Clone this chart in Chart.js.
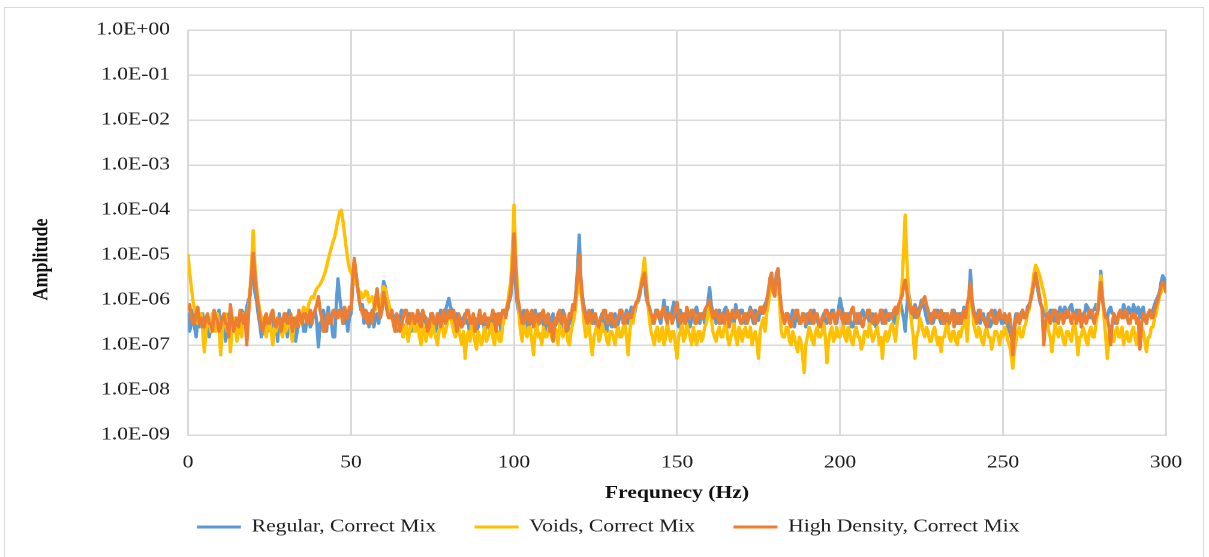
<!DOCTYPE html>
<html><head><meta charset="utf-8">
<script src="https://cdn.jsdelivr.net/npm/chart.js@4.4.0/dist/chart.umd.min.js"></script>
<style>
html,body{margin:0;padding:0;background:#fff;overflow:hidden;width:1209px;height:557px;}
#frame{position:absolute;left:4px;top:7px;width:1200px;height:600px;border:1px solid #d9d9d9;box-sizing:border-box;}
#wrap{position:absolute;left:0;top:0;width:1008px;height:557px;transform:scaleX(1.19940);transform-origin:0 0;}
</style></head>
<body>
<div id="frame"></div>
<div id="wrap"><canvas id="c"></canvas></div>
<script>
const seriesNames = ['Regular, Correct Mix', 'Voids, Correct Mix', 'High Density, Correct Mix'];
const xTitle = 'Frequnecy (Hz)';
const yTitle = 'Amplitude';
const xTickValues = [0, 50, 100, 150, 200, 250, 300];
const yTickLabels = ['1.0E+00','1.0E-01','1.0E-02','1.0E-03','1.0E-04','1.0E-05','1.0E-06','1.0E-07','1.0E-08','1.0E-09'];

const freq = [
0,0.5,1,1.5,2,2.5,3,3.5,4,4.5,
5,5.5,6,6.5,7,7.5,8,8.5,9,9.5,
10,10.5,11,11.5,12,12.5,13,13.5,14,14.5,
15,15.5,16,16.5,17,17.5,18,18.5,19,19.5,
20,20.5,21,21.5,22,22.5,23,23.5,24,24.5,
25,25.5,26,26.5,27,27.5,28,28.5,29,29.5,
30,30.5,31,31.5,32,32.5,33,33.5,34,34.5,
35,35.5,36,36.5,37,37.5,38,38.5,39,39.5,
40,40.5,41,41.5,42,42.5,43,43.5,44,44.5,
45,45.5,46,46.5,47,47.5,48,48.5,49,49.5,
50,50.5,51,51.5,52,52.5,53,53.5,54,54.5,
55,55.5,56,56.5,57,57.5,58,58.5,59,59.5,
60,60.5,61,61.5,62,62.5,63,63.5,64,64.5,
65,65.5,66,66.5,67,67.5,68,68.5,69,69.5,
70,70.5,71,71.5,72,72.5,73,73.5,74,74.5,
75,75.5,76,76.5,77,77.5,78,78.5,79,79.5,
80,80.5,81,81.5,82,82.5,83,83.5,84,84.5,
85,85.5,86,86.5,87,87.5,88,88.5,89,89.5,
90,90.5,91,91.5,92,92.5,93,93.5,94,94.5,
95,95.5,96,96.5,97,97.5,98,98.5,99,99.5,
100,100.5,101,101.5,102,102.5,103,103.5,104,104.5,
105,105.5,106,106.5,107,107.5,108,108.5,109,109.5,
110,110.5,111,111.5,112,112.5,113,113.5,114,114.5,
115,115.5,116,116.5,117,117.5,118,118.5,119,119.5,
120,120.5,121,121.5,122,122.5,123,123.5,124,124.5,
125,125.5,126,126.5,127,127.5,128,128.5,129,129.5,
130,130.5,131,131.5,132,132.5,133,133.5,134,134.5,
135,135.5,136,136.5,137,137.5,138,138.5,139,139.5,
140,140.5,141,141.5,142,142.5,143,143.5,144,144.5,
145,145.5,146,146.5,147,147.5,148,148.5,149,149.5,
150,150.5,151,151.5,152,152.5,153,153.5,154,154.5,
155,155.5,156,156.5,157,157.5,158,158.5,159,159.5,
160,160.5,161,161.5,162,162.5,163,163.5,164,164.5,
165,165.5,166,166.5,167,167.5,168,168.5,169,169.5,
170,170.5,171,171.5,172,172.5,173,173.5,174,174.5,
175,175.5,176,176.5,177,177.5,178,178.5,179,179.5,
180,180.5,181,181.5,182,182.5,183,183.5,184,184.5,
185,185.5,186,186.5,187,187.5,188,188.5,189,189.5,
190,190.5,191,191.5,192,192.5,193,193.5,194,194.5,
195,195.5,196,196.5,197,197.5,198,198.5,199,199.5,
200,200.5,201,201.5,202,202.5,203,203.5,204,204.5,
205,205.5,206,206.5,207,207.5,208,208.5,209,209.5,
210,210.5,211,211.5,212,212.5,213,213.5,214,214.5,
215,215.5,216,216.5,217,217.5,218,218.5,219,219.5,
220,220.5,221,221.5,222,222.5,223,223.5,224,224.5,
225,225.5,226,226.5,227,227.5,228,228.5,229,229.5,
230,230.5,231,231.5,232,232.5,233,233.5,234,234.5,
235,235.5,236,236.5,237,237.5,238,238.5,239,239.5,
240,240.5,241,241.5,242,242.5,243,243.5,244,244.5,
245,245.5,246,246.5,247,247.5,248,248.5,249,249.5,
250,250.5,251,251.5,252,252.5,253,253.5,254,254.5,
255,255.5,256,256.5,257,257.5,258,258.5,259,259.5,
260,260.5,261,261.5,262,262.5,263,263.5,264,264.5,
265,265.5,266,266.5,267,267.5,268,268.5,269,269.5,
270,270.5,271,271.5,272,272.5,273,273.5,274,274.5,
275,275.5,276,276.5,277,277.5,278,278.5,279,279.5,
280,280.5,281,281.5,282,282.5,283,283.5,284,284.5,
285,285.5,286,286.5,287,287.5,288,288.5,289,289.5,
290,290.5,291,291.5,292,292.5,293,293.5,294,294.5,
295,295.5,296,296.5,297,297.5,298,298.5,299,299.5,
300];

const regular = [
5e-7,2e-7,3e-7,6e-7,2.5e-7,1.5e-7,4e-7,2.5e-7,3e-7,5e-7,
2e-7,3e-7,3.5e-7,1.5e-7,2.5e-7,5e-7,4.5e-7,2e-7,3e-7,6e-7,
1.5e-7,3.5e-7,3e-7,1.2e-7,2e-7,5e-7,4e-7,2e-7,2.5e-7,4e-7,
1.3e-7,2e-7,3e-7,6e-7,5e-7,3e-7,7e-7,1e-6,1.2e-6,3e-6,
7e-6,1.5e-6,1e-6,5e-7,3e-7,1.5e-7,2e-7,4e-7,4e-7,2e-7,
2.5e-7,4.5e-7,1.5e-7,2.5e-7,3.5e-7,1.2e-7,5e-7,3e-7,2e-7,4e-7,
3e-7,1.5e-7,6e-7,3e-7,2.5e-7,4e-7,1.2e-7,2e-7,3e-7,5e-7,
4e-7,2e-7,2e-7,4e-7,5e-7,2.5e-7,3e-7,5e-7,6e-7,3e-7,
9e-8,3e-7,3.5e-7,6e-7,4e-7,2e-7,7e-7,4e-7,3e-7,1.5e-7,
1.5e-7,8e-7,3e-6,1.2e-6,6e-7,3e-7,3e-7,5e-7,2e-7,4e-7,
5e-7,2e-6,7e-6,4e-6,2e-6,1e-6,6e-7,8e-7,3e-7,6e-7,
5e-7,2.5e-7,4e-7,6e-7,2.5e-7,4e-7,5e-7,3e-7,8e-7,1.2e-6,
2.6e-6,2e-6,1.2e-6,8e-7,5e-7,6e-7,3e-7,4.5e-7,2e-7,3e-7,
4e-7,6e-7,1.5e-7,2.5e-7,3e-7,5e-7,5e-7,2e-7,2.5e-7,4e-7,
3.5e-7,2e-7,5e-7,3e-7,2.5e-7,4.5e-7,4e-7,1.8e-7,3e-7,5e-7,
5e-7,3e-7,2e-7,4e-7,3.5e-7,6e-7,4e-7,3e-7,6e-7,8e-7,
1.1e-6,7e-7,6e-7,3e-7,3e-7,5e-7,4.5e-7,2.5e-7,2.5e-7,4e-7,
5e-7,3e-7,3e-7,1.5e-7,2e-7,4e-7,4e-7,2e-7,2.5e-7,5e-7,
3e-7,4e-7,1.8e-7,3e-7,4e-7,2e-7,2.5e-7,4.5e-7,5e-7,2.5e-7,
3e-7,5e-7,2e-7,3e-7,4e-7,6e-7,6e-7,9e-7,1.2e-6,3e-6,
1e-5,2e-6,8e-7,5e-7,4e-7,3e-7,6e-7,4e-7,3e-7,2e-7,
5e-7,3e-7,4e-7,6e-7,2.5e-7,3e-7,5e-7,4e-7,3e-7,2e-7,
4.5e-7,3e-7,2e-7,4e-7,5e-7,2.5e-7,3e-7,5e-7,4e-7,2e-7,
6e-7,4e-7,3e-7,2e-7,5e-7,3e-7,7e-7,5e-7,1.5e-6,5e-6,
2.8e-5,3e-6,1.2e-6,7e-7,5e-7,3e-7,3e-7,5e-7,6e-7,3e-7,
4e-7,2e-7,2e-7,4e-7,5e-7,3e-7,3e-7,2e-7,4.5e-7,3e-7,
2.5e-7,4e-7,5e-7,2.5e-7,3e-7,5e-7,6e-7,3e-7,4e-7,6e-7,
3e-7,5e-7,7e-7,4e-7,5e-7,8e-7,9e-7,1.2e-6,2e-6,2.5e-6,
3e-6,1.2e-6,8e-7,6e-7,5e-7,3e-7,4e-7,6e-7,6e-7,4e-7,
3e-7,5e-7,1e-6,5e-7,7e-7,4e-7,4e-7,6e-7,9e-7,5e-7,
4e-7,2.5e-7,6e-7,4e-7,3e-7,5e-7,5e-7,3e-7,2.5e-7,4e-7,
4e-7,6e-7,7e-7,4e-7,3e-7,5e-7,5e-7,3e-7,6e-7,9e-7,
1.9e-6,8e-7,5e-7,4e-7,3e-7,5e-7,6e-7,3e-7,4e-7,6e-7,
7e-7,4e-7,3e-7,5e-7,5e-7,3e-7,8e-7,5e-7,4e-7,6e-7,
6e-7,4e-7,3e-7,5e-7,5e-7,7e-7,4e-7,3e-7,6e-7,4e-7,
3.5e-7,6e-7,5e-7,7e-7,8e-7,1e-6,1.5e-6,3e-6,4e-6,1.5e-6,
1.5e-6,4e-6,5e-6,1.5e-6,6e-7,4e-7,3e-7,5e-7,5e-7,3e-7,
4e-7,6e-7,2.5e-7,4e-7,5e-7,3e-7,3e-7,5e-7,4e-7,2.5e-7,
5e-7,3e-7,3e-7,5e-7,6e-7,4e-7,4e-7,2.5e-7,2.5e-7,4e-7,
5e-7,3e-7,3e-7,5e-7,4e-7,6e-7,6e-7,4e-7,3e-7,6e-7,
1.1e-6,7e-7,5e-7,3e-7,3e-7,5e-7,4e-7,2.5e-7,2.5e-7,4e-7,
5e-7,3e-7,3e-7,5e-7,6e-7,4e-7,4e-7,6e-7,3e-7,4e-7,
5e-7,3e-7,2.5e-7,4e-7,4e-7,6e-7,3e-7,5e-7,6e-7,4e-7,
3.5e-7,5e-7,5e-7,3e-7,4e-7,6e-7,7e-7,9e-7,6e-7,4e-7,
2e-7,7e-7,1.6e-6,9e-7,5e-7,4e-7,8e-7,6e-7,4e-7,7e-7,
1e-6,8e-7,6e-7,4e-7,3e-7,5e-7,5e-7,3e-7,4e-7,6e-7,
6e-7,4e-7,3e-7,5e-7,5e-7,3e-7,2.5e-7,4e-7,4e-7,6e-7,
6e-7,4e-7,3e-7,5e-7,5e-7,3e-7,7e-7,5e-7,4e-7,1e-6,
4.6e-6,1e-6,6e-7,4e-7,4e-7,6e-7,3e-7,4e-7,5e-7,3e-7,
3e-7,5e-7,2.5e-7,3e-7,4e-7,6e-7,3e-7,4e-7,5e-7,3e-7,
3e-7,5e-7,4e-7,2.5e-7,2e-7,1.5e-7,1.2e-7,3e-7,5e-7,4e-7,
3e-7,5e-7,6e-7,4e-7,4e-7,7e-7,8e-7,1e-6,1.5e-6,2.5e-6,
3e-6,2e-6,1.2e-6,8e-7,7e-7,5e-7,5e-7,3e-7,4e-7,6e-7,
6e-7,4e-7,3e-7,5e-7,5e-7,7e-7,4e-7,6e-7,7e-7,4e-7,
5e-7,7e-7,8e-7,5e-7,4e-7,6e-7,6e-7,4e-7,3e-7,5e-7,
5e-7,8e-7,7e-7,4e-7,4e-7,6e-7,6e-7,8e-7,5e-7,1.2e-6,
4.4e-6,1.2e-6,6e-7,4e-7,4e-7,6e-7,7e-7,5e-7,5e-7,3e-7,
3e-7,5e-7,6e-7,4e-7,8e-7,6e-7,4e-7,7e-7,6e-7,4e-7,
8e-7,6e-7,5e-7,7e-7,4e-7,6e-7,7e-7,4e-7,3e-7,5e-7,
5e-7,4e-7,6e-7,8e-7,1e-6,1.2e-6,1.5e-6,2.5e-6,3.5e-6,3e-6,
2e-6];

const voids = [
1e-5,4e-6,2e-6,1e-6,6e-7,4e-7,3e-7,5e-7,5e-7,2e-7,
7e-8,2e-7,4e-7,3e-7,2e-7,5e-7,3e-7,2e-7,5e-7,3e-7,
6e-8,2e-7,3e-7,5e-7,2e-7,3e-7,7e-8,2e-7,4e-7,2.5e-7,
1.2e-7,3e-7,3e-7,1.5e-7,5e-7,3e-7,2e-7,6e-7,1.5e-6,6e-6,
3.5e-5,6e-6,2e-6,1e-6,6e-7,4e-7,3e-7,2e-7,1.5e-7,3e-7,
4e-7,2e-7,1e-7,2.5e-7,2e-7,4e-7,3e-7,2e-7,1.5e-7,3e-7,
2e-7,3e-7,4e-7,2e-7,1.2e-7,3e-7,3e-7,4.5e-7,4e-7,3e-7,
5e-7,7e-7,6e-7,5e-7,8e-7,1e-6,1.2e-6,1.1e-6,1.5e-6,1.8e-6,
2e-6,2.2e-6,2.6e-6,3.2e-6,4e-6,5.5e-6,8e-6,1.1e-5,1.5e-5,2e-5,
2.5e-5,4e-5,6e-5,9e-5,1e-4,6e-5,3e-5,1.5e-5,8e-6,5e-6,
4e-6,3.5e-6,3e-6,2.2e-6,2e-6,1.4e-6,1.5e-6,1.1e-6,1.2e-6,1.6e-6,
1.5e-6,9e-7,1e-6,1.2e-6,8e-7,6e-7,1e-6,8e-7,7e-7,1.2e-6,
2e-6,1.8e-6,1.2e-6,9e-7,6e-7,4e-7,3e-7,2e-7,4e-7,3e-7,
2e-7,3e-7,1.5e-7,2e-7,3e-7,1.2e-7,2e-7,3e-7,4e-7,2e-7,
2e-7,3e-7,1.5e-7,1e-7,3e-7,2e-7,1.2e-7,2e-7,2.5e-7,1.5e-7,
3.5e-7,2e-7,1.5e-7,1e-7,2e-7,3e-7,3e-7,1.5e-7,2e-7,3e-7,
5e-7,4e-7,3e-7,2e-7,1.5e-7,2e-7,2.5e-7,1.5e-7,1e-7,2e-7,
5e-8,1.5e-7,2e-7,1.2e-7,3e-7,2e-7,1.2e-7,8e-8,2e-7,1.5e-7,
1e-7,1.5e-7,2.5e-7,1.2e-7,1.5e-7,2e-7,3e-7,1.5e-7,1e-7,2e-7,
2e-7,1.2e-7,1.2e-7,2.5e-7,4e-7,6e-7,8e-7,1.5e-6,2.5e-6,1.2e-5,
1.3e-4,1e-5,2e-6,5e-7,2e-7,1.2e-7,3e-7,2e-7,1.5e-7,2.5e-7,
2.5e-7,1.2e-7,6e-8,2e-7,3e-7,1.5e-7,1.8e-7,1e-7,2.5e-7,1.5e-7,
1.5e-7,2e-7,3e-7,1.5e-7,1.2e-7,2.5e-7,2e-7,1e-7,3e-7,2e-7,
1.5e-7,2.5e-7,2.5e-7,1.2e-7,1e-7,2e-7,3e-7,4e-7,8e-7,2e-6,
5e-6,1.5e-6,8e-7,3e-7,1.5e-7,2e-7,3e-7,1.2e-7,6e-8,1.5e-7,
2e-7,3e-7,1.2e-7,1.5e-7,3e-7,2e-7,2e-7,1.2e-7,1e-7,2e-7,
2e-7,1.5e-7,1e-7,2e-7,2.5e-7,1.5e-7,1.5e-7,2.5e-7,3e-7,1.5e-7,
6e-8,2e-7,4e-7,3e-7,6e-7,8e-7,1e-6,1.5e-6,2.5e-6,4e-6,
8.6e-6,3e-6,1e-6,4e-7,2e-7,1.5e-7,1e-7,2e-7,2.5e-7,1.2e-7,
1.5e-7,2.5e-7,1e-7,1.5e-7,3e-7,2e-7,1.2e-7,2e-7,2e-7,1e-7,
5e-8,1.5e-7,2e-7,3e-7,1.2e-7,1.5e-7,3e-7,2e-7,1.5e-7,1e-7,
2.5e-7,1.5e-7,1e-7,2e-7,2e-7,1.2e-7,1.5e-7,2.5e-7,3e-7,5e-7,
8e-7,4e-7,2e-7,1.5e-7,1.2e-7,2e-7,2.5e-7,1.5e-7,1.5e-7,2.5e-7,
3e-7,1.5e-7,1e-7,1.5e-7,2e-7,3e-7,1.5e-7,1e-7,2.5e-7,2e-7,
1.2e-7,2e-7,2.5e-7,1.5e-7,1.5e-7,2.5e-7,1e-7,1.5e-7,2e-7,1.2e-7,
5e-8,2e-7,3e-7,4e-7,2e-7,5e-7,8e-7,1.5e-6,2.5e-6,1.5e-6,
1.5e-6,2e-6,2.5e-6,8e-7,2e-7,1.5e-7,1.5e-7,2.5e-7,2.5e-7,1.2e-7,
1e-7,2e-7,1.5e-7,1e-7,7e-8,1.5e-7,1.2e-7,6e-8,2.4e-8,1e-7,
1.5e-7,2.5e-7,2e-7,1.2e-7,1e-7,2e-7,2.5e-7,1.5e-7,1.5e-7,2e-7,
3e-7,1.5e-7,4e-8,1.2e-7,2e-7,2.5e-7,1.2e-7,1.5e-7,2.5e-7,1.5e-7,
1.5e-7,2e-7,3e-7,1.5e-7,1.2e-7,2.5e-7,2e-7,1.2e-7,1e-7,2e-7,
2.5e-7,1.5e-7,1.5e-7,8e-8,1e-7,2e-7,2e-7,1.5e-7,3e-7,2e-7,
1.2e-7,1.5e-7,2e-7,2.5e-7,1e-7,1.5e-7,5e-8,1.5e-7,2e-7,1.2e-7,
1.5e-7,2.5e-7,3e-7,2e-7,1.2e-7,3e-7,5e-7,1e-6,2e-6,1.2e-5,
7.8e-5,8e-6,1.5e-6,6e-7,3e-7,1.5e-7,5e-8,1.5e-7,2e-7,4e-7,
3e-7,2e-7,1.5e-7,2.5e-7,2e-7,1.2e-7,1.2e-7,2e-7,2.5e-7,1.5e-7,
1e-7,1.5e-7,7e-8,1.5e-7,1.5e-7,2.5e-7,3e-7,1.5e-7,1.2e-7,2e-7,
2e-7,1.2e-7,1e-7,2e-7,1.5e-7,2.5e-7,2.5e-7,4e-7,1.2e-7,6e-7,
2e-6,8e-7,3e-7,2e-7,1.5e-7,2.5e-7,2e-7,1.2e-7,1e-7,2e-7,
2.5e-7,1.5e-7,1.5e-7,8e-8,1.2e-7,2e-7,2e-7,1.5e-7,1e-7,2e-7,
1.5e-7,2.5e-7,2e-7,1.2e-7,1e-7,6e-8,3e-8,8e-8,1.2e-7,2e-7,
2.5e-7,1.5e-7,1.5e-7,2.5e-7,3e-7,5e-7,6e-7,1.2e-6,2e-6,4e-6,
6e-6,5e-6,4e-6,3e-6,2e-6,1.5e-6,1e-6,4e-7,2e-7,1.5e-7,
7e-8,1.5e-7,3e-7,2e-7,1.5e-7,2.5e-7,2e-7,1.2e-7,1e-7,2e-7,
2e-7,1.5e-7,1.2e-7,2.5e-7,3e-7,1.5e-7,6e-8,1.5e-7,1.5e-7,2.5e-7,
2e-7,1.2e-7,1e-7,2e-7,2.5e-7,1.5e-7,1.5e-7,3e-7,5e-7,1.5e-6,
3.5e-6,1.2e-6,4e-7,1.5e-7,5e-8,1.5e-7,2e-7,1.2e-7,1.2e-7,2e-7,
2.5e-7,1.5e-7,1.5e-7,2.5e-7,1e-7,1.5e-7,2e-7,1.2e-7,1.2e-7,2e-7,
2.5e-7,1.5e-7,1e-7,2e-7,1.5e-7,2.5e-7,2e-7,1.2e-7,7e-8,1.5e-7,
1.5e-7,2.5e-7,2.5e-7,4e-7,5e-7,8e-7,1.2e-6,1.5e-6,2e-6,1.8e-6,
1.5e-6];

const highDensity = [
6e-7,8e-7,4e-7,3e-7,3e-7,5e-7,7e-7,3e-7,4e-7,2.5e-7,
2.5e-7,4e-7,5e-7,3e-7,3e-7,2e-7,6e-7,4e-7,3.5e-7,2e-7,
2.5e-7,4e-7,5e-7,3e-7,3e-7,1.5e-7,8e-7,4e-7,2e-7,3e-7,
4e-7,2.5e-7,6e-7,4e-7,3e-7,5e-7,1e-7,4e-7,1.5e-6,4e-6,
1.1e-5,4e-6,1.5e-6,8e-7,4e-7,2.5e-7,2e-7,4e-7,5e-7,3e-7,
3e-7,5e-7,6e-7,3e-7,2.5e-7,4e-7,4e-7,2e-7,3e-7,5e-7,
5e-7,3e-7,3e-7,5e-7,2e-7,3e-7,4e-7,2.5e-7,6e-7,4e-7,
3e-7,5e-7,5e-7,3e-7,4e-7,6e-7,3e-7,5e-7,6e-7,8e-7,
1.2e-6,6e-7,4e-7,2e-7,2e-7,4e-7,5e-7,3e-7,3e-7,6e-7,
6e-7,4e-7,4e-7,6e-7,5e-7,3e-7,7e-7,5e-7,4e-7,7e-7,
6e-7,3e-6,8.5e-6,4e-6,2e-6,1e-6,7e-7,5e-7,4e-7,6e-7,
3e-7,5e-7,5e-7,3e-7,6e-7,1e-6,1.8e-6,8e-7,4e-7,6e-7,
1.5e-6,1e-6,6e-7,4e-7,4e-7,6e-7,3e-7,2e-7,5e-7,4e-7,
2e-7,3e-7,4e-7,6e-7,6e-7,3e-7,3e-7,5e-7,5e-7,3e-7,
4e-7,6e-7,3e-7,2.5e-7,6e-7,4e-7,4e-7,2e-7,2.5e-7,5e-7,
5e-7,3e-7,3e-7,5e-7,4e-7,2.5e-7,5e-7,6e-7,3e-7,4e-7,
6e-7,4e-7,4e-7,6e-7,3e-7,2e-7,5e-7,4e-7,2.5e-7,3e-7,
4e-7,6e-7,6e-7,3e-7,3e-7,5e-7,2e-7,3e-7,4e-7,6e-7,
3e-7,4e-7,5e-7,3e-7,2.5e-7,4e-7,4e-7,6e-7,3e-7,2e-7,
5e-7,3e-7,4e-7,6e-7,6e-7,4e-7,8e-7,1e-6,1.5e-6,5e-6,
3e-5,5e-6,1.2e-6,8e-7,5e-7,3e-7,3e-7,5e-7,6e-7,3e-7,
4e-7,6e-7,2.5e-7,4e-7,5e-7,3e-7,3e-7,5e-7,6e-7,3e-7,
4e-7,5e-7,2e-7,3e-7,1.2e-7,4e-7,3e-7,5e-7,6e-7,3e-7,
4e-7,5e-7,2e-7,3e-7,5e-7,4e-7,8e-7,6e-7,1.5e-6,3e-6,
1e-5,3e-6,1e-6,6e-7,4e-7,3e-7,6e-7,4e-7,3e-7,5e-7,
5e-7,3e-7,2.5e-7,4e-7,4e-7,6e-7,6e-7,3e-7,3e-7,5e-7,
5e-7,3e-7,2.5e-7,4e-7,4e-7,6e-7,6e-7,3e-7,3e-7,5e-7,
5e-7,4e-7,4e-7,6e-7,7e-7,9e-7,1e-6,1.5e-6,2e-6,3e-6,
4e-6,2e-6,9e-7,7e-7,5e-7,4e-7,3e-7,5e-7,6e-7,4e-7,
4e-7,6e-7,7e-7,4e-7,3e-7,5e-7,5e-7,3e-7,4e-7,6e-7,
9e-7,5e-7,3e-7,4e-7,5e-7,3e-7,7e-7,5e-7,4e-7,6e-7,
6e-7,3e-7,3e-7,5e-7,5e-7,4e-7,4e-7,6e-7,7e-7,8e-7,
1e-6,6e-7,4e-7,5e-7,6e-7,4e-7,3e-7,5e-7,5e-7,3e-7,
4e-7,6e-7,2.5e-7,4e-7,6e-7,4e-7,4e-7,6e-7,5e-7,3e-7,
3e-7,5e-7,5e-7,3e-7,4e-7,6e-7,6e-7,4e-7,3e-7,5e-7,
5e-7,7e-7,7e-7,5e-7,6e-7,9e-7,1.5e-6,3e-6,4e-6,1.5e-6,
1.2e-6,3.5e-6,5e-6,1.5e-6,7e-7,4e-7,3e-7,5e-7,5e-7,3e-7,
2.5e-7,4e-7,4e-7,6e-7,6e-7,3e-7,3e-7,5e-7,5e-7,3e-7,
4e-7,5e-7,6e-7,3e-7,3e-7,5e-7,5e-7,3e-7,2.5e-7,4e-7,
4e-7,6e-7,6e-7,4e-7,3e-7,5e-7,5e-7,3e-7,4e-7,6e-7,
6e-7,4e-7,3e-7,5e-7,5e-7,3e-7,4e-7,6e-7,7e-7,4e-7,
3e-7,5e-7,5e-7,3e-7,2.5e-7,4e-7,4e-7,6e-7,6e-7,4e-7,
3e-7,4e-7,5e-7,3e-7,4e-7,6e-7,6e-7,3e-7,3e-7,5e-7,
5e-7,4e-7,4e-7,6e-7,7e-7,5e-7,8e-7,1e-6,1.2e-6,2e-6,
2.8e-6,1.5e-6,9e-7,6e-7,5e-7,7e-7,7e-7,4e-7,5e-7,6e-7,
8e-7,1e-6,1.2e-6,8e-7,6e-7,4e-7,3e-7,5e-7,6e-7,4e-7,
4e-7,5e-7,6e-7,3e-7,3e-7,5e-7,5e-7,3e-7,4e-7,6e-7,
2.5e-7,4e-7,5e-7,3e-7,3e-7,5e-7,6e-7,4e-7,8e-7,1.2e-6,
2.5e-6,9e-7,5e-7,4e-7,3e-7,5e-7,6e-7,4e-7,4e-7,3e-7,
2.5e-7,4e-7,5e-7,6e-7,4e-7,3e-7,3e-7,5e-7,6e-7,4e-7,
4e-7,5e-7,3e-7,4e-7,5e-7,2e-7,6e-8,2e-7,4e-7,5e-7,
3e-7,4e-7,6e-7,4e-7,4e-7,6e-7,7e-7,1e-6,1.5e-6,2.5e-6,
4e-6,2.5e-6,1.5e-6,9e-7,6e-7,1e-7,3e-7,5e-7,5e-7,3e-7,
4e-7,6e-7,6e-7,4e-7,3e-7,5e-7,5e-7,3e-7,4e-7,6e-7,
6e-7,4e-7,3e-7,5e-7,5e-7,3e-7,4e-7,6e-7,2.5e-7,4e-7,
5e-7,3e-7,4e-7,6e-7,6e-7,4e-7,3e-7,5e-7,5e-7,1e-6,
2.5e-6,1e-6,6e-7,4e-7,4e-7,2.5e-7,1e-7,3e-7,5e-7,4e-7,
3e-7,5e-7,6e-7,4e-7,4e-7,6e-7,5e-7,3e-7,3e-7,5e-7,
4e-7,5e-7,3e-7,4e-7,8e-8,3e-7,5e-7,4e-7,3e-7,5e-7,
6e-7,4e-7,4e-7,6e-7,8e-7,1e-6,1.5e-6,2e-6,2.5e-6,2e-6,
1.5e-6];

const colors = ['#5B9BD5', '#FFC000', '#ED7D31'];
const seriesValues = [regular, voids, highDensity];
const drawOrder = [2, 1, 0];

const SX = 1209 / 1008;
const plotLeft = 188 / SX;
const plotRight = 1166 / SX;
const serif = 'Liberation Serif, "Times New Roman", serif';

const datasets = seriesValues.map((vals, k) => ({
  label: seriesNames[k],
  data: freq.map((f, i) => ({x: f, y: vals[i]})),
  borderColor: colors[k],
  backgroundColor: colors[k],
  order: drawOrder[k]
}));

new Chart(document.getElementById('c'), {
  type: 'line',
  data: {datasets},
  options: {
    responsive: true,
    maintainAspectRatio: false,
    animation: false,
    devicePixelRatio: 2,
    layout: {padding: {left: 4, right: 1008 - plotRight, top: 30, bottom: 11}},
    elements: {
      point: {radius: 0},
      line: {borderWidth: 2.8, tension: 0, borderJoinStyle: 'round', borderCapStyle: 'round'}
    },
    scales: {
      x: {
        type: 'linear', min: 0, max: 300,
        afterBuildTicks: s => { s.ticks = xTickValues.map(v => ({value: v})); },
        grid: {color: '#d9d9d9', lineWidth: 1.5, drawTicks: false},
        border: {color: '#d9d9d9', width: 1.5},
        ticks: {padding: 17, color: '#1f1f1f', font: {family: serif, size: 18}, maxRotation: 0},
        title: {display: true, text: xTitle, color: '#111', font: {family: serif, size: 18, weight: 'bold'}, padding: {top: 0, bottom: -18}},
        afterFit: s => { s.height = 51; }
      },
      y: {
        type: 'logarithmic', min: 1e-9, max: 1,
        afterBuildTicks: s => { s.ticks = yTickLabels.map(t => ({value: Number(t)})); },
        grid: {color: '#d9d9d9', lineWidth: 1.5, drawTicks: false},
        border: {color: '#d9d9d9', width: 1.5},
        ticks: {padding: 15, color: '#1f1f1f', font: {family: serif, size: 18}, callback: (v, i) => yTickLabels[i], autoSkip: false},
        title: {display: true, text: yTitle + '\u00a0'.repeat(12), color: '#111', font: {family: serif, size: 18, weight: 'bold'}, padding: {top: 20, bottom: 0}},
        afterFit: s => { s.width = plotLeft - 4; }
      }
    },
    plugins: {
      tooltip: {enabled: false},
      legend: {
        position: 'bottom',
        labels: {
          boxWidth: 36.7, boxHeight: 3, padding: 32, color: '#1f1f1f',
          font: {family: serif, size: 18},
          generateLabels: chart => chart.data.datasets.map((d, i) => ({
            text: d.label, fillStyle: d.borderColor, strokeStyle: d.borderColor,
            lineWidth: 0, hidden: false, datasetIndex: i, fontColor: '#1f1f1f'
          }))
        }
      }
    }
  },
  plugins: [{
    id: 'legendShift',
    afterLayout(chart) { chart.legend.left += 19; chart.legend.right += 19; }
  }]
});
</script>
</body></html>
